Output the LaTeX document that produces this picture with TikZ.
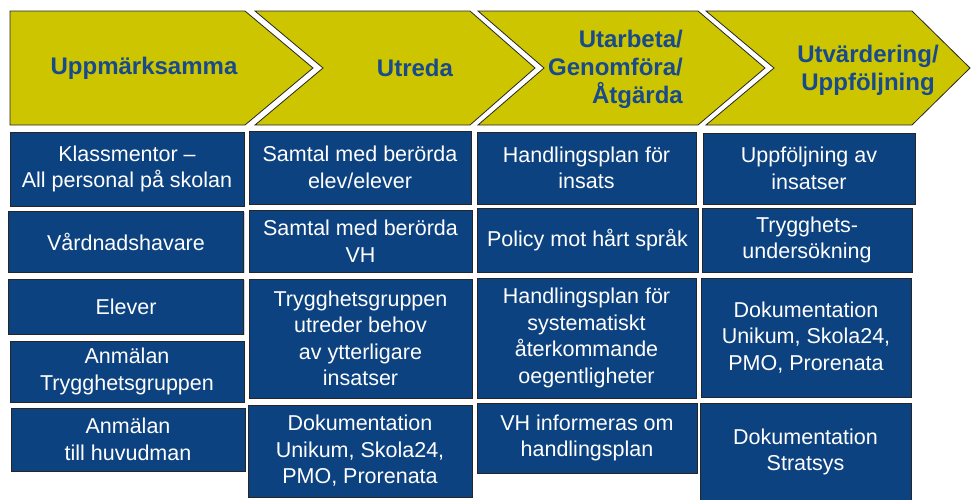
\documentclass[tikz,border=0pt]{standalone}
\usepackage{fontspec}
\setmainfont{Liberation Sans}
\usepackage{tikz}
\usetikzlibrary{shadows}

\definecolor{phaseyellow}{RGB}{204,197,0}
\definecolor{phasetext}{RGB}{24,74,140}
\definecolor{boxblue}{RGB}{13,66,128}

\tikzset{
  phase/.style={draw=black!85, fill=phaseyellow, line width=0.8pt},
  phaselabel/.style={text=phasetext, font=\fontsize{24}{28}\selectfont\bfseries, align=center, inner sep=0pt},
  infobox/.style={draw=black!85, fill=boxblue, text=white, align=center, inner sep=0pt, line width=0.8pt,
    font=\fontsize{21.5}{26.5}\selectfont, drop shadow={shadow xshift=1pt, shadow yshift=-1pt, fill=black!35}}
}

\begin{document}
\begin{tikzpicture}[x=1pt, y=-1pt]
  \useasboundingbox (0,0) rectangle (971,499);

  % phases
  \draw[phase] (10,11) -- (245,11) -- (313,68) -- (245,125) -- (10,125) -- cycle;
  \draw[phase] (255,11) -- (470,11) -- (535,68) -- (470,125) -- (255,125) -- (323,68) -- cycle;
  \draw[phase] (478,11) -- (698,11) -- (765,68) -- (698,125) -- (478,125) -- (544,68) -- cycle;
  \draw[phase] (706,11) -- (912,11) -- (970,68) -- (912,125) -- (706,125) -- (774,68) -- cycle;
  \node[phaselabel] (uppm) at (144,68) {Uppmärksamma};
  \node[phaselabel] (utreda) at (415,68) {Utreda};
  \node[phaselabel, align=right, anchor=east] (utarb) at (683,69) {Utarbeta/\\Genomföra/\\Åtgärda};
  \node[phaselabel] (utv) at (868,70) {Utvärdering/\\Uppföljning};

  % column 1
  \node[infobox, minimum width=234, minimum height=74] (klass) at (127,169) {Klassmentor --\\All personal på skolan};
  \node[infobox, minimum width=235, minimum height=61] (vh) at (126,241.5) {Vårdnadshavare};
  \node[infobox, minimum width=235, minimum height=55] (elever) at (126,306.5) {Elever};
  \node[infobox, minimum width=234, minimum height=61] (anmtg) at (127,371.5) {Anmälan\\Trygghetsgruppen};
  \node[infobox, minimum width=234, minimum height=63] (anmhm) at (128,439.5) {Anmälan\\till huvudman};

  % column 2
  \node[infobox, minimum width=222, minimum height=73] (samtalelev) at (360,167.5) {Samtal med berörda\\elev/elever};
  \node[infobox, minimum width=223, minimum height=62] (samtalvh) at (360.5,241) {Samtal med berörda\\VH};
  \node[infobox, minimum width=223, minimum height=119] (tgutreder) at (360.5,338.5) {Trygghetsgruppen\\utreder behov\\av ytterligare\\insatser};
  \node[infobox, minimum width=224, minimum height=92] (dokutr) at (360,451) {Dokumentation\\Unikum, Skola24,\\PMO, Prorenata};

  % column 3
  \node[infobox, minimum width=219, minimum height=72] (hplan) at (586.5,168) {Handlingsplan för\\insats};
  \node[infobox, minimum width=221, minimum height=64] (policy) at (587.5,240) {Policy mot hårt språk};
  \node[infobox, minimum width=219, minimum height=120] (hplansys) at (586.5,338) {Handlingsplan för\\systematiskt\\återkommande\\oegentligheter};
  \node[infobox, minimum width=220, minimum height=70] (vhinfo) at (587,438) {VH informeras om\\handlingsplan};

  % column 4
  \node[infobox, minimum width=212, minimum height=71] (uppf) at (809,168.5) {Uppföljning av\\insatser};
  \node[infobox, minimum width=210, minimum height=64] (trygg) at (807,240) {Trygghets-\\undersökning};
  \node[infobox, minimum width=210, minimum height=119] (dokutv) at (806,337.5) {Dokumentation\\Unikum, Skola24,\\PMO, Prorenata};
  \node[infobox, minimum width=211, minimum height=98] (stratsys) at (805.5,452) {Dokumentation\\Stratsys};
\end{tikzpicture}
\end{document}
